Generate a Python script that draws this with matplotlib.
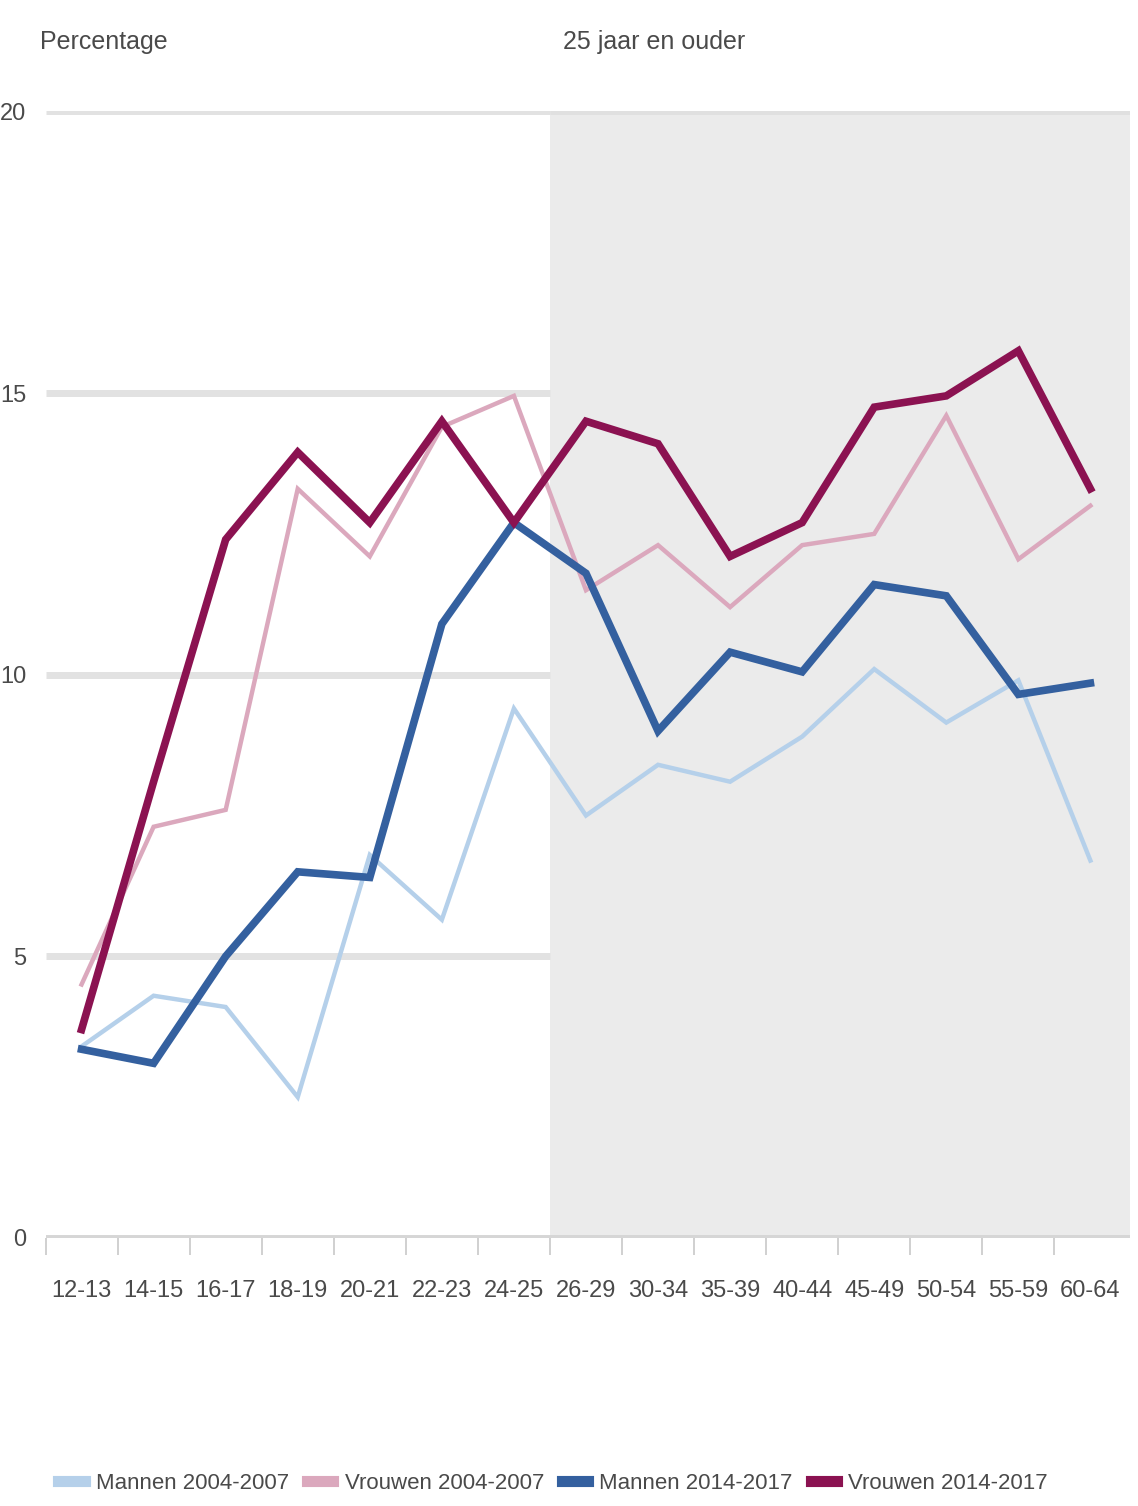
#!/usr/bin/env python3
import numpy as np
import matplotlib
matplotlib.use("Agg")
import matplotlib.pyplot as plt

# age groups and percentages
leeftijd = ["12-13", "14-15", "16-17", "18-19", "20-21", "22-23", "24-25",
            "26-29", "30-34", "35-39", "40-44", "45-49", "50-54", "55-59", "60-64"]

mannen_0407 = [3.4, 4.3, 4.1, 2.5, 6.8, 5.65, 9.4, 7.5, 8.4, 8.1, 8.9, 10.1, 9.15, 9.9, 6.7]
vrouwen_0407 = [4.5, 7.3, 7.6, 13.3, 12.1, 14.4, 14.95, 11.5, 12.3, 11.2, 12.3, 12.5, 14.6, 12.05, 13.0]
mannen_1417 = [3.35, 3.1, 5.0, 6.5, 6.4, 10.9, 12.7, 11.8, 9.0, 10.4, 10.05, 11.6, 11.4, 9.65, 9.85]
vrouwen_1417 = [3.7, 8.1, 12.4, 13.95, 12.7, 14.5, 12.7, 14.5, 14.1, 12.1, 12.7, 14.75, 14.95, 15.75, 13.3]

series = [
    ("Mannen 2004-2007", mannen_0407, "#b5d0ea", 3.2),
    ("Vrouwen 2004-2007", vrouwen_0407, "#dba8bd", 3.2),
    ("Mannen 2014-2017", mannen_1417, "#34609f", 5.5),
    ("Vrouwen 2014-2017", vrouwen_1417, "#8b1251", 5.5),
]

plt.rcParams['font.family'] = ['Liberation Sans', 'DejaVu Sans']
txt = "#4a4a4a"

fig = plt.figure(figsize=(11.38, 15.06), dpi=100)
ax = fig.add_axes([0.04, 0.178, 0.953, 0.748])

x = np.arange(len(leeftijd))
ax.set_xlim(-0.49, len(leeftijd) - 0.45)
ax.set_ylim(0, 20)

# shaded block for 25 jaar en ouder
ax.axvspan(6.5, len(leeftijd), color="#ebebeb", zorder=0, lw=0)

# gridlines only in the white part
for v in [5, 10, 15, 20]:
    ax.plot([-0.49, 6.5], [v, v], color="#e2e2e2", lw=5, zorder=1, solid_capstyle="butt")
ax.plot([6.5, len(leeftijd)], [20, 20], color="#e0e0e0", lw=5, zorder=1, solid_capstyle="butt")
ax.axhline(0, color="#d6d6d6", lw=5, zorder=1)

for naam, vals, kleur, dikte in series:
    ax.plot(x, vals, color=kleur, lw=dikte, label=naam, zorder=3, solid_joinstyle="miter")

for s in ax.spines.values():
    s.set_visible(False)

ax.set_xticks(x)
ax.set_xticklabels(leeftijd, fontsize=17, color=txt)
ax.set_xticks(np.arange(len(leeftijd)) - 0.5, minor=True)
ax.tick_params(axis="x", which="major", length=0, pad=30)
ax.tick_params(axis="x", which="minor", length=12, width=1.2, color="#c8c8c8", direction="out")
ax.set_yticks([0, 5, 10, 15, 20])
ax.set_yticklabels(["0", "5", "10", "15", "20"], fontsize=17, color=txt)
ax.tick_params(axis="y", length=0, pad=14)

fig.text(0.035, 0.972, "Percentage", fontsize=18, color=txt, va="center", ha="left")
fig.text(0.495, 0.972, "25 jaar en ouder", fontsize=18, color=txt, va="center", ha="left")

ax.legend(loc="center", bbox_to_anchor=(0.468, -0.218), ncol=4, frameon=False,
          fontsize=16, labelcolor=txt, handlelength=1.2, handletextpad=0.5,
          columnspacing=0.8)
for h in ax.get_legend().get_lines():
    h.set_linewidth(8)

fig.savefig("out.png", dpi=100)
